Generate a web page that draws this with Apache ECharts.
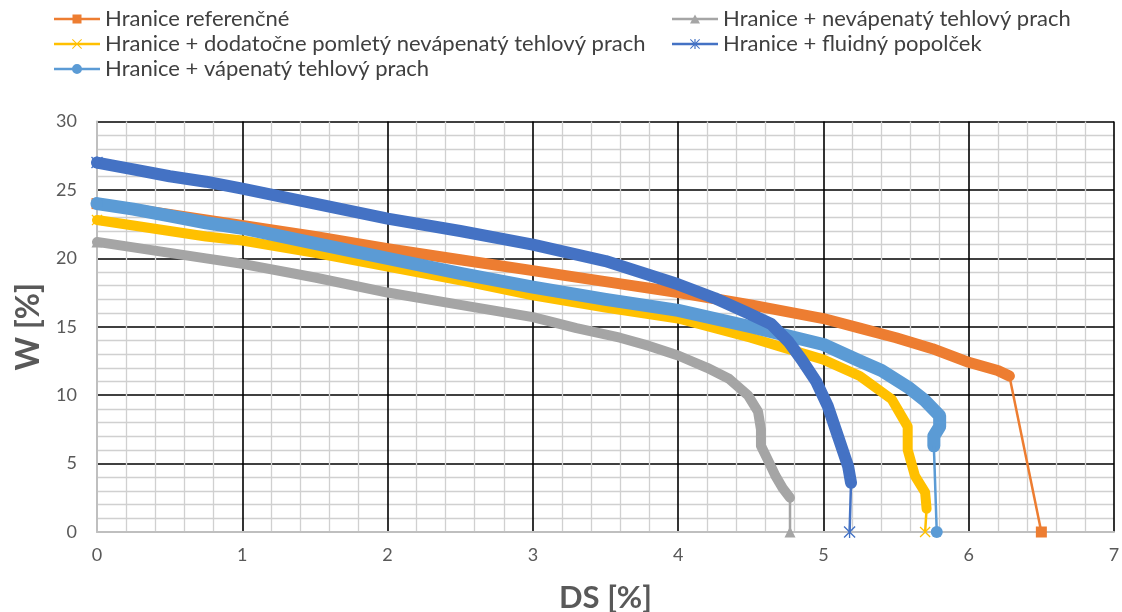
<!DOCTYPE html>
<html>
<head>
<meta charset="utf-8">
<title>Hranice – W vs DS</title>
<script src="https://cdn.jsdelivr.net/npm/echarts@6/dist/echarts.min.js"></script>
<style>
  html, body { margin: 0; padding: 0; background: #fff; }
  #chart { width: 1122px; height: 612px; }
</style>
</head>
<body>
<div id="chart"></div>
<script>
// Axis ticks
const xTicks = [0, 1, 2, 3, 4, 5, 6, 7];
const yTicks = [0, 5, 10, 15, 20, 25, 30];

// Series names
const nameRef  = 'Hranice referenčné';
const nameNev  = 'Hranice + nevápenatý tehlový prach';
const nameDod  = 'Hranice + dodatočne pomletý nevápenatý tehlový prach';
const nameFlu  = 'Hranice + fluidný popolček';
const nameVap  = 'Hranice + vápenatý tehlový prach';

// Hranice referenčné
const dsRef = [0, 0.25, 0.5, 0.75, 1, 1.5, 2, 2.5, 3, 3.5, 4, 4.5, 5, 5.25, 5.5, 5.75, 6, 6.2, 6.28, 6.5];
const wRef  = [24.0, 23.6, 23.2, 22.8, 22.4, 21.6, 20.7, 19.9, 19.1, 18.3, 17.5, 16.6, 15.6, 14.9, 14.2, 13.4, 12.4, 11.8, 11.4, 0];

// Hranice + nevápenatý tehlový prach
const dsNev = [0, 0.25, 0.5, 0.75, 1, 1.5, 2, 2.5, 3, 3.3, 3.6, 3.8, 4, 4.2, 4.35, 4.48, 4.55, 4.57, 4.57, 4.63, 4.67, 4.72, 4.77, 4.77];
const wNev  = [21.2, 20.8, 20.4, 20.0, 19.6, 18.6, 17.5, 16.6, 15.7, 14.9, 14.2, 13.6, 12.9, 12.0, 11.2, 10.0, 8.8, 7.5, 6.3, 5.0, 4.1, 3.2, 2.5, 0];

// Hranice + dodatočne pomletý nevápenatý tehlový prach
const dsDod = [0, 0.25, 0.5, 0.75, 1, 1.5, 2, 2.5, 3, 3.5, 4, 4.5, 5, 5.25, 5.47, 5.58, 5.58, 5.63, 5.7, 5.71, 5.7];
const wDod  = [22.8, 22.4, 22.0, 21.6, 21.3, 20.4, 19.4, 18.4, 17.3, 16.4, 15.6, 14.2, 12.6, 11.4, 9.7, 7.7, 6.0, 4.1, 2.9, 1.7, 0];

// Hranice + fluidný popolček
const dsFlu = [0, 0.25, 0.5, 0.75, 1, 1.5, 2, 2.5, 3, 3.5, 4, 4.25, 4.46, 4.64, 4.76, 4.85, 4.95, 5.03, 5.1, 5.17, 5.19, 5.18];
const wFlu  = [27.0, 26.5, 26.0, 25.6, 25.1, 24.0, 22.9, 22.0, 21.0, 19.8, 18.1, 17.1, 16.1, 15.2, 13.9, 12.6, 11.0, 9.2, 7.0, 4.8, 3.6, 0];

// Hranice + vápenatý tehlový prach
const dsVap = [0, 0.25, 0.5, 0.75, 1, 1.5, 2, 2.5, 3, 3.5, 4, 4.5, 5, 5.25, 5.4, 5.58, 5.7, 5.8, 5.8, 5.76, 5.76, 5.78];
const wVap  = [24.0, 23.6, 23.1, 22.6, 22.2, 21.1, 20.0, 18.9, 17.9, 17.0, 16.2, 15.0, 13.7, 12.5, 11.8, 10.6, 9.6, 8.5, 7.7, 7.0, 6.3, 0];

// Marker shapes
const xMark = 'path://M0.8,0L5,4.2L9.2,0L10,0.8L5.8,5L10,9.2L9.2,10L5,5.8L0.8,10L0,9.2L4.2,5L0,0.8Z';
const starMark = 'path://M0.8,0L5,4.2L9.2,0L10,0.8L5.8,5L10,9.2L9.2,10L5,5.8L0.8,10L0,9.2L4.2,5L0,0.8Z M4.45,0H5.55V10H4.45Z';

// Legend icons: short line with the marker in the middle (46 x 10 box)
const ln = 'M0,3.7H46V6.3H0Z ';
const iconSquare = 'path://' + ln + 'M18.5,0.5H27.5V9.5H18.5Z';
const iconTri    = 'path://' + ln + 'M18,9.5L23,0.5L28,9.5Z';
const iconCircle = 'path://' + ln + 'M23,0A5,5 0 1 1 22.99,0Z';
const iconX      = 'path://' + ln + 'M18.7,0L23,4.3L27.3,0L28,0.7L23.7,5L28,9.3L27.3,10L23,5.7L18.7,10L18,9.3L22.3,5L18,0.7Z';
const iconStar   = 'path://' + ln + 'M18.7,0L23,4.3L27.3,0L28,0.7L23.7,5L28,9.3L27.3,10L23,5.7L18.7,10L18,9.3L22.3,5L18,0.7Z M22.4,0H23.6V10H22.4Z';

const defs = [
  { name: nameRef, ds: dsRef, w: wRef, color: '#ED7D31', band: 11, mark: 'rect', markSize: 11, icon: iconSquare, z: 2 },
  { name: nameNev, ds: dsNev, w: wNev, color: '#A5A5A5', band: 10, mark: 'triangle', markSize: 11, icon: iconTri, z: 3 },
  { name: nameDod, ds: dsDod, w: wDod, color: '#FFC000', band: 10, mark: xMark, markSize: 11, icon: iconX, z: 4 },
  { name: nameFlu, ds: dsFlu, w: wFlu, color: '#4472C4', band: 12, mark: starMark, markSize: 12, icon: iconStar, z: 6 },
  { name: nameVap, ds: dsVap, w: wVap, color: '#5B9BD5', band: 13, mark: 'circle', markSize: 12, icon: iconCircle, z: 5 }
];

const series = [];
defs.forEach(d => {
  const pts = d.ds.map((x, i) => [x, d.w[i]]);
  const n = pts.length;
  // dense measured part, drawn as a thick band; marker on the first point
  series.push({
    name: d.name,
    type: 'line',
    data: pts.slice(0, n - 1).map((p, i) => i === 0 ? { value: p } : { value: p, symbol: 'none' }),
    symbol: d.mark,
    symbolSize: d.markSize,
    showSymbol: true,
    color: d.color,
    itemStyle: { color: d.color },
    lineStyle: { width: d.band, color: d.color, cap: 'round', join: 'round' },
    z: d.z,
    silent: true,
    animation: false
  });
  // final drop to the end point with its marker
  series.push({
    name: d.name + ' ',
    type: 'line',
    data: [
      { value: pts[n - 2], symbol: 'none' },
      { value: pts[n - 1] }
    ],
    symbol: d.mark,
    symbolSize: d.markSize,
    showSymbol: true,
    itemStyle: { color: d.color },
    lineStyle: { width: 2.5, color: d.color },
    z: d.z,
    silent: true,
    animation: false
  });
});

const FONT = 'Lato';
const legendText = { fontFamily: FONT, fontSize: 22, color: '#404040' };
function legendItem(d) { return { name: d.name, icon: d.icon, itemStyle: { color: d.color } }; }

const chart = echarts.init(document.getElementById('chart'), null, { renderer: 'canvas' });
chart.setOption({
  backgroundColor: '#ffffff',
  animation: false,
  legend: [
    {
      orient: 'vertical', left: 49, top: 3, itemGap: 3, padding: 5,
      itemWidth: 46, itemHeight: 10, selectedMode: false,
      textStyle: legendText,
      data: [legendItem(defs[0]), legendItem(defs[2]), legendItem(defs[4])]
    },
    {
      orient: 'vertical', left: 667, top: 3, itemGap: 3, padding: 5,
      itemWidth: 46, itemHeight: 10, selectedMode: false,
      textStyle: legendText,
      data: [legendItem(defs[1]), legendItem(defs[3])]
    }
  ],
  grid: { left: 97, right: 8, top: 121.5, bottom: 80, outerBoundsMode: 'none', containLabel: false },
  xAxis: {
    type: 'value',
    min: xTicks[0], max: xTicks[xTicks.length - 1], interval: 1,
    name: 'DS [%]', nameLocation: 'middle', nameGap: 50,
    nameTextStyle: { fontFamily: FONT, fontSize: 31, fontWeight: 'bold', color: '#595959' },
    axisLine: { show: true, onZero: false, lineStyle: { color: '#BFBFBF', width: 2 } },
    axisTick: { show: false },
    axisLabel: { color: '#595959', fontSize: 18, fontFamily: FONT, margin: 14 },
    splitLine: { show: true, showMinLine: false, lineStyle: { color: '#000000', width: 1.6 } },
    minorTick: { show: false, splitNumber: 5 },
    minorSplitLine: { show: true, lineStyle: { color: '#D0D0D0', width: 1.3 } }
  },
  yAxis: {
    type: 'value',
    min: yTicks[0], max: yTicks[yTicks.length - 1], interval: 5,
    name: 'W [%]', nameLocation: 'middle', nameGap: 52, nameRotate: 90,
    nameTextStyle: { fontFamily: FONT, fontSize: 32, fontWeight: 'bold', color: '#595959' },
    axisLine: { show: true, onZero: false, lineStyle: { color: '#BFBFBF', width: 2 } },
    axisTick: { show: false },
    axisLabel: { color: '#595959', fontSize: 18, fontFamily: FONT, margin: 20 },
    splitLine: { show: true, showMinLine: false, lineStyle: { color: '#000000', width: 1.6 } },
    minorTick: { show: false, splitNumber: 5 },
    minorSplitLine: { show: true, lineStyle: { color: '#D0D0D0', width: 1.3 } }
  },
  series: series
});
</script>
</body>
</html>
